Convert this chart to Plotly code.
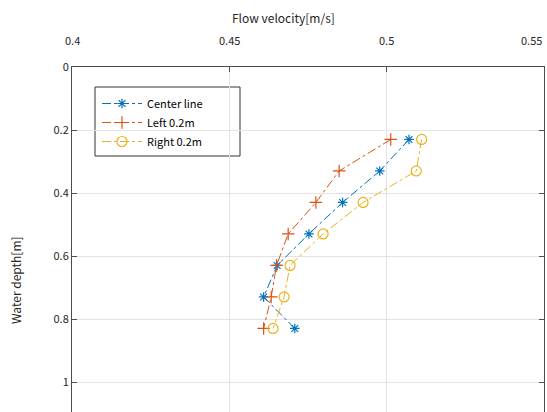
import plotly.graph_objects as go

depth = [0.23, 0.33, 0.43, 0.53, 0.63, 0.73, 0.83]
center = [0.5071, 0.4978, 0.4860, 0.4753, 0.4652, 0.4609, 0.4708]
left = [0.5013, 0.4849, 0.4775, 0.4687, 0.4650, 0.4633, 0.4609]
right = [0.5111, 0.5094, 0.4925, 0.4798, 0.4693, 0.4674, 0.4639]

x_ticks = [0.4, 0.45, 0.5, 0.55]
x_labels = ["0.4", "0.45", "0.5", "0.55"]
y_ticks = [0, 0.2, 0.4, 0.6, 0.8, 1]
y_labels = ["0", "0.2", "0.4", "0.6", "0.8", "1"]

W, H = 547, 412
ML, MR, MT, MB = 72, 3, 67, 0
PW, PH = W - ML - MR, H - MT - MB
PX_PER_UNIT = 315.0
y_bottom = PH / PX_PER_UNIT

FONT = "Noto Sans CJK JP, Noto Sans, sans-serif"
TXT = "#262626"


def px_x(px):
    return (px - ML) / PW


def px_y(py):
    return (H - MB - py) / PH


fig = go.Figure()
series = [
    ("Center line", center, "#0072BD", "asterisk-open", 8),
    ("Left 0.2m", left, "#D95319", "cross-thin-open", 9),
    ("Right 0.2m", right, "#EDB120", "circle-open", 10),
]
for name, xs, col, sym, sz in series:
    fig.add_trace(go.Scatter(
        x=xs, y=depth, name=name, mode="lines+markers",
        line=dict(color=col, width=1, dash="dashdot"),
        marker=dict(symbol=sym, size=sz, color=col, line=dict(color=col, width=1.2)),
    ))

fig.update_layout(
    width=W, height=H,
    margin=dict(l=ML, r=MR, t=MT, b=MB, pad=0),
    paper_bgcolor="white", plot_bgcolor="white",
    font=dict(family=FONT, size=11, color=TXT),
    xaxis=dict(
        side="top", range=[0.4, 0.55], tickvals=x_ticks, showticklabels=False,
        showgrid=True, gridcolor="#e3e3e3", gridwidth=1,
        showline=True, linecolor="#4d4d4d", linewidth=1, mirror=False,
        ticks="inside", ticklen=5, tickcolor="#4d4d4d",
        zeroline=False,
    ),
    yaxis=dict(
        range=[y_bottom, 0], tickvals=y_ticks, ticktext=y_labels,
        showgrid=True, gridcolor="#e3e3e3", gridwidth=1,
        showline=True, linecolor="#4d4d4d", linewidth=1, mirror="ticks",
        ticks="inside", ticklen=5, tickcolor="#4d4d4d",
        zeroline=False, tickfont=dict(size=11, color=TXT),
    ),
    legend=dict(
        x=px_x(97), y=px_y(89),
        xanchor="left", yanchor="top",
        borderwidth=0, bgcolor="rgba(255,255,255,0)",
        font=dict(size=11, color="#000000"), tracegroupgap=0,
        itemwidth=40,
    ),
    showlegend=True,
)

# legend box
fig.add_shape(type="rect", xref="paper", yref="paper",
              x0=px_x(95), x1=px_x(240), y0=px_y(156), y1=px_y(87),
              line=dict(color="#333333", width=1), fillcolor="white", layer="below")

# x tick labels
for v, lab in zip(x_ticks, x_labels):
    anchor = "right" if v == x_ticks[-1] else "center"
    fig.add_annotation(text=lab, xref="x", yref="paper", x=v, y=1,
                       yanchor="bottom", xanchor=anchor, yshift=17,
                       showarrow=False, font=dict(size=11, color=TXT))

fig.add_annotation(
    text="Flow velocity[m/s]", xref="paper", yref="paper",
    x=px_x(283), y=px_y(17), xanchor="center", yanchor="middle",
    showarrow=False, font=dict(size=12, color=TXT),
)
fig.add_annotation(
    text="Water depth[m]", textangle=-90, xref="paper", yref="paper",
    x=px_x(15), y=px_y(280), showarrow=False,
    font=dict(size=12, color=TXT), xanchor="center", yanchor="middle",
)

fig.write_html("out.html")
